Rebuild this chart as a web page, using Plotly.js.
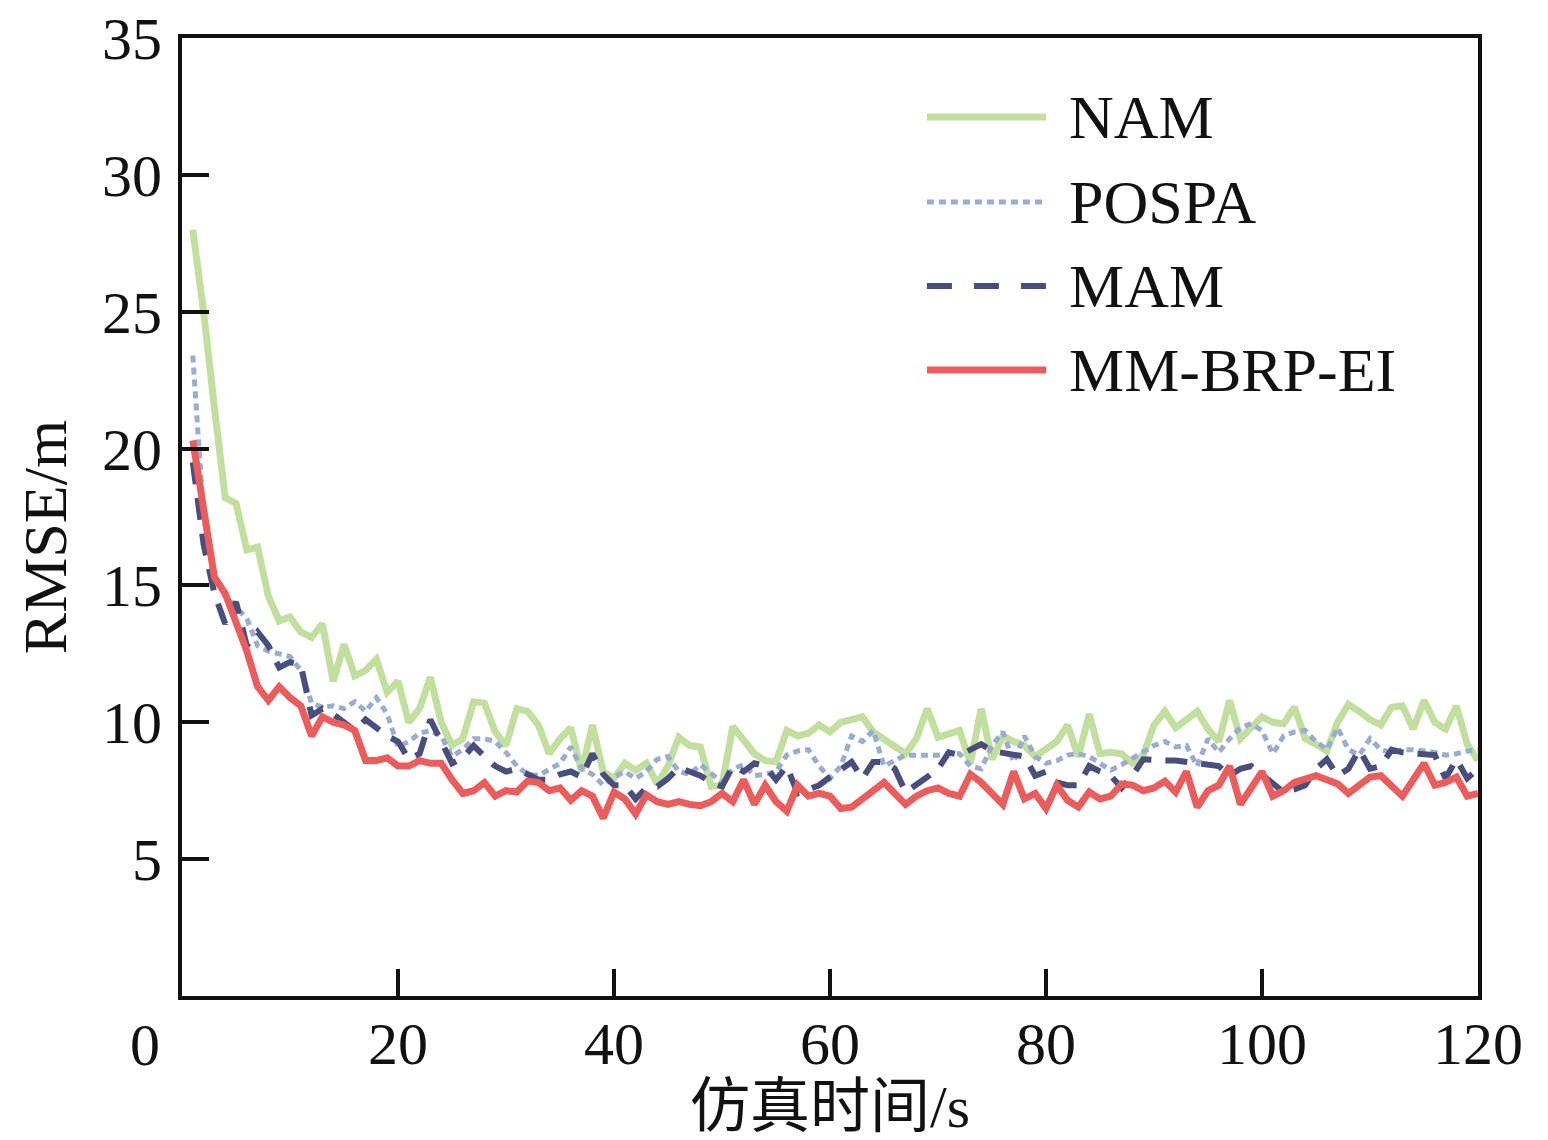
<!DOCTYPE html>
<html>
<head>
<meta charset="utf-8">
<script src="https://cdn.plot.ly/plotly-3.0.1.min.js"></script>
<style>
  html, body { margin: 0; padding: 0; background: #fff; }
  #chart { width: 1548px; height: 1140px; }
</style>
</head>
<body>
<div id="chart"></div>
<script>
// time steps (s)
var timeSteps = [];
for (var i = 1; i <= 120; i++) timeSteps.push(i);

var seriesNames = ["NAM", "POSPA", "MAM", "MM-BRP-EI"];

// RMSE values, one per second
var namRmse = [
  28.0, 25.0, 21.5, 18.2, 18.0, 16.3, 16.4, 14.6, 13.7, 13.85,
  13.3, 13.1, 13.6, 11.5, 12.85, 11.7, 11.9, 12.3, 11.1, 11.5,
  10.0, 10.5, 11.65, 10.0, 9.15, 9.4, 10.75, 10.7, 9.65, 9.15,
  10.5, 10.4, 9.9, 8.85, 9.4, 9.8, 8.2, 9.9, 8.2, 7.95,
  8.5, 8.25, 8.5, 7.75, 8.4, 9.45, 9.15, 9.1, 7.65, 7.7,
  9.85, 9.3, 8.85, 8.6, 8.55, 9.7, 9.5, 9.6, 9.9, 9.65,
  10.0, 10.1, 10.2, 9.65, 9.4, 9.1, 8.85, 9.4, 10.5, 9.45,
  9.6, 9.7, 8.5, 10.5, 8.65, 9.5, 9.3, 9.15, 8.75, 9.0,
  9.3, 9.9, 8.75, 10.3, 8.85, 8.9, 8.85, 8.5, 8.8, 9.9,
  10.4, 9.8, 10.1, 10.4, 9.75, 9.3, 10.8, 9.4, 9.8, 10.2,
  10.0, 9.95, 10.55, 9.4, 9.2, 8.95, 10.0, 10.65, 10.4, 10.1,
  9.9, 10.55, 10.6, 9.75, 10.8, 10.0, 9.75, 10.6, 9.2, 8.6
];

var pospaRmse = [
  23.4, 17.5, 15.3, 14.6, 14.2, 13.8, 12.8, 12.6, 12.5, 12.4,
  11.9, 10.7, 10.55, 10.6, 10.5, 10.75, 10.4, 10.9, 10.3, 9.1,
  9.3, 9.6, 9.7, 9.5, 8.75, 9.0, 9.4, 9.4, 9.3, 8.9,
  8.4, 8.1, 8.05, 8.3, 8.5, 9.1, 8.3, 8.1, 7.7, 8.0,
  8.2, 7.95, 8.2, 8.65, 8.75, 8.2, 8.1, 8.45, 8.1, 7.8,
  8.3, 8.45, 8.05, 8.1, 8.2, 8.8, 8.95, 9.0, 8.4, 7.95,
  8.4, 9.5, 9.3, 9.7, 8.4, 8.6, 8.8, 8.8, 8.8, 8.8,
  8.85, 8.85, 8.4, 8.3, 9.15, 9.65, 8.55, 9.5, 8.75, 8.5,
  8.6, 8.8, 8.85, 8.75, 8.5, 8.25, 8.45, 8.7, 8.9, 9.15,
  9.3, 9.1, 9.15, 8.4, 9.4, 8.9, 9.4, 9.8, 9.95, 9.7,
  8.85, 9.5, 9.65, 9.7, 9.3, 9.0, 9.8, 9.0, 8.8, 9.4,
  9.0, 8.9, 9.0, 9.0, 8.95, 8.9, 8.8, 8.85, 8.95, 9.0
];

var mamRmse = [
  19.5, 16.5, 14.7, 13.6, 14.4, 12.8, 13.3, 12.8, 12.0, 12.2,
  12.1, 10.25, 10.5, 10.3, 10.0, 9.7, 10.1, 9.8, 9.5, 9.3,
  8.65, 8.85, 10.1, 9.3, 8.5, 8.7, 9.15, 8.75, 8.4, 8.2,
  8.3, 8.1, 7.9, 7.9, 8.1, 8.2, 8.0, 8.85, 8.1, 7.7,
  7.7, 7.2, 7.6, 7.65, 7.95, 8.35, 8.2, 8.05, 7.8, 7.65,
  8.4, 8.2, 8.5, 8.4, 7.9, 8.4, 7.4, 7.55, 7.7, 8.0,
  8.3, 8.55, 7.95, 8.55, 8.55, 8.3, 7.45, 7.7, 8.0, 8.3,
  8.9, 8.8, 9.0, 9.2, 8.95, 8.9, 8.8, 8.75, 8.05, 8.2,
  7.8, 7.7, 7.7, 8.4, 8.2, 8.05, 7.6, 8.05, 8.65, 8.6,
  8.6, 8.6, 8.55, 8.5, 8.5, 8.4, 8.05, 8.3, 8.4, 8.1,
  7.8, 7.45, 7.55, 7.7, 8.3, 8.65, 8.05, 8.3, 9.0, 8.3,
  8.4, 9.0, 8.9, 8.85, 8.8, 8.8, 7.95, 8.65, 7.95, 8.3
];

var mmbrpRmse = [
  20.3, 17.8, 15.3, 14.7, 13.7, 12.6, 11.3, 10.8, 11.3, 10.9,
  10.6, 9.5, 10.2, 10.0, 9.9, 9.7, 8.6, 8.6, 8.7, 8.4,
  8.4, 8.6, 8.5, 8.5, 7.9, 7.4, 7.5, 7.8, 7.3, 7.5,
  7.45, 7.85, 7.8, 7.5, 7.6, 7.15, 7.5, 7.3, 6.5, 7.45,
  7.2, 6.65, 7.35, 7.1, 7.0, 7.1, 7.0, 6.95, 7.1, 7.4,
  7.1, 7.9, 7.0, 7.7, 7.1, 6.75, 7.7, 7.3, 7.4, 7.3,
  6.85, 6.9, 7.2, 7.5, 7.8, 7.4, 7.0, 7.3, 7.5, 7.6,
  7.4, 7.3, 8.1, 7.8, 7.4, 7.0, 8.2, 7.2, 7.4, 6.85,
  7.7, 7.15, 6.9, 7.45, 7.2, 7.3, 7.75, 7.7, 7.5, 7.6,
  7.85, 7.45, 8.2, 6.9, 7.5, 7.7, 8.4, 7.0, 7.6, 8.2,
  7.3, 7.5, 7.8, 7.9, 8.05, 7.9, 7.75, 7.4, 7.7, 8.0,
  8.05, 7.7, 7.3, 7.9, 8.5, 7.7, 7.8, 8.0, 7.3, 7.4
];

var xTickVals = [0, 20, 40, 60, 80, 100, 120];
var xTickText = ["", "20", "40", "60", "80", "100", "120"];
var yTickVals = [5, 10, 15, 20, 25, 30, 35];

var colors = ["#c3df9f", "#9aaccf", "#4a4e7c", "#eb5d5d"];
var widths = [7, 5, 6, 7];
var dashes = ["solid", "7px,5px", "22px,14px", "solid"];
var allSeries = [namRmse, pospaRmse, mamRmse, mmbrpRmse];

var traces = allSeries.map(function (vals, k) {
  return {
    x: timeSteps,
    y: vals,
    name: seriesNames[k],
    type: "scatter",
    mode: "lines",
    line: { color: colors[k], width: widths[k], dash: dashes[k] },
    showlegend: false
  };
});

// hand-made legend with long line samples
var legendY = [0.9175, 0.8288, 0.7411, 0.6534];
var shapes = [];
var annotations = [];
seriesNames.forEach(function (nm, k) {
  shapes.push({
    type: "line", xref: "paper", yref: "paper",
    x0: 0.5748, x1: 0.6667, y0: legendY[k], y1: legendY[k],
    line: { color: colors[k], width: widths[k], dash: k == 2 ? "25px,22px" : dashes[k] }
  });
  annotations.push({
    xref: "paper", yref: "paper", x: 0.683, y: legendY[k],
    xanchor: "left", yanchor: "middle", showarrow: false,
    text: nm, font: { size: 62, color: "#111" }
  });
});
// origin label sits left of the axis corner
annotations.push({
  xref: "paper", yref: "paper", x: -0.0285, y: -0.051,
  xanchor: "center", yanchor: "middle", showarrow: false,
  text: "0", font: { size: 60, color: "#111" }
});
// y title placed by hand (sits a bit below the plot centre)
annotations.push({
  xref: "paper", yref: "paper", x: -0.1057, y: 0.479,
  xanchor: "center", yanchor: "middle", showarrow: false, textangle: -90,
  text: "RMSE/m", font: { size: 62, color: "#111" }
});

var layout = {
  width: 1548,
  height: 1140,
  margin: { l: 182, r: 70, t: 38, b: 144 },
  paper_bgcolor: "#fff",
  plot_bgcolor: "#fff",
  font: { family: "'Liberation Serif', 'Noto Sans CJK SC', serif", color: "#111", size: 60 },
  xaxis: {
    range: [0, 120],
    tickvals: xTickVals,
    ticktext: xTickText,
    ticks: "inside",
    ticklen: 27,
    tickwidth: 4,
    tickcolor: "#111",
    ticklabelstandoff: -8,
    showline: true,
    linewidth: 4,
    linecolor: "#111",
    mirror: true,
    showgrid: false,
    zeroline: false,
    tickfont: { size: 60 },
    title: { text: "仿真时间/s", font: { size: 60 }, standoff: 8 }
  },
  yaxis: {
    range: [0, 35],
    tickvals: yTickVals,
    ticks: "inside",
    ticklen: 27,
    tickwidth: 4,
    tickcolor: "#111",
    ticklabelstandoff: 4,
    showline: true,
    linewidth: 4,
    linecolor: "#111",
    mirror: true,
    showgrid: false,
    zeroline: false,
    tickfont: { size: 60 }
  },
  shapes: shapes,
  annotations: annotations
};

Plotly.newPlot("chart", traces, layout, { displayModeBar: false, staticPlot: true });
</script>
</body>
</html>
